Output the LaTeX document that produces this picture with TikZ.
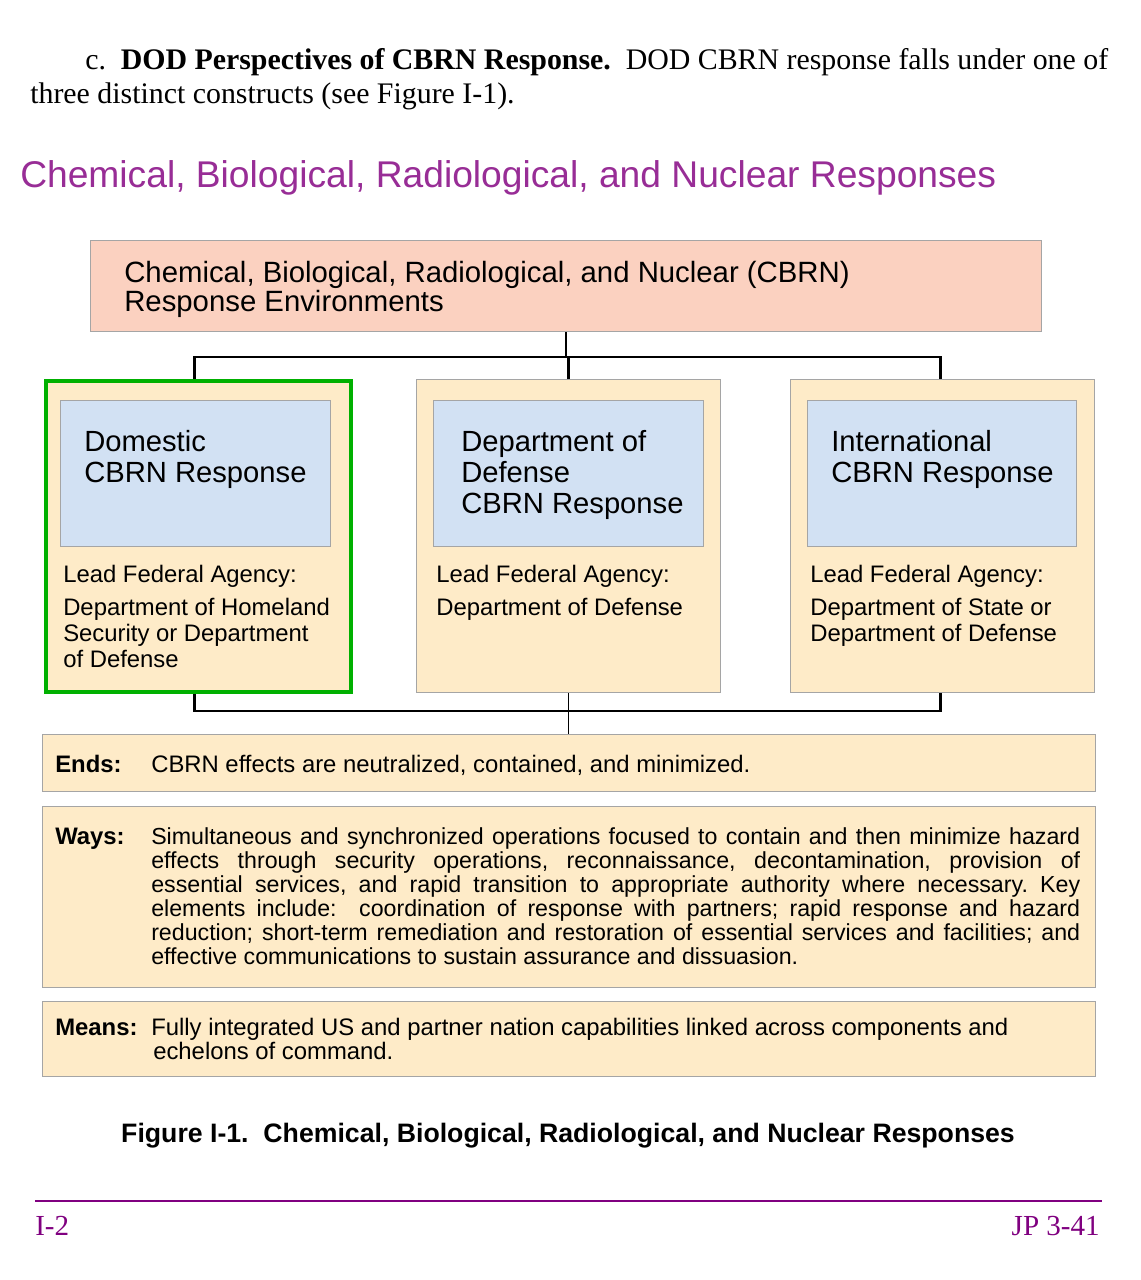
\documentclass[tikz,border=0pt]{standalone}
\usepackage{fontspec}
\setmainfont{Liberation Serif}
\setsansfont{Liberation Sans}
\definecolor{ttlpurple}{RGB}{152,45,150}
\definecolor{ftpurple}{RGB}{128,0,128}
\definecolor{salmon}{RGB}{251,209,192}
\definecolor{cream}{RGB}{254,235,200}
\definecolor{paleblue}{RGB}{210,225,243}
\definecolor{grayline}{RGB}{165,165,165}
\definecolor{boxgreen}{RGB}{0,176,0}
\begin{document}
\begin{tikzpicture}[x=0.75pt,y=-0.75pt,
  box/.style={draw=grayline, line width=0.8pt, inner sep=0pt, anchor=north west},
  panel/.style={box, fill=cream, minimum width=228pt, minimum height=234.75pt},
  bluebox/.style={box, fill=paleblue, minimum width=202.5pt, minimum height=109.5pt},
  wide/.style={box, fill=cream, minimum width=789.75pt},
  txt/.style={inner sep=0pt, anchor=base west, font=\sffamily},
  small/.style={txt, font=\sffamily\fontsize{17.9}{19.5}\selectfont},
  smallbf/.style={txt, font=\sffamily\bfseries\fontsize{17.9}{19.5}\selectfont},
  conn/.style={draw=black, line width=1.7pt},
  stem/.style={draw=black, line width=1.1pt}]
\useasboundingbox (0,0) rectangle (1140,1280);
\fill[white] (0,0) rectangle (1140,1280);

% intro paragraph
\node[inner sep=0pt, anchor=base west] (intro) at (30,70) {\parbox[t]{808.5pt}{\fontsize{22.4}{25.5}\selectfont\parindent=41.25pt\indent c.\ \ \textbf{DOD Perspectives of CBRN Response.}\ \ DOD CBRN response falls under one of\linebreak three distinct constructs (see Figure I-1).}};

% figure title
\node[txt, text=ttlpurple, font=\sffamily\fontsize{27.9}{30}\selectfont] (ftitle) at (20,188) {Chemical, Biological, Radiological, and Nuclear Responses};

% top box
\node[box, fill=salmon, minimum width=713.25pt, minimum height=68.25pt] (top) at (90,240) {};
\node[txt] (toptxt) at (124,282) {\parbox[t]{600pt}{\fontsize{22}{21.75}\selectfont Chemical, Biological, Radiological, and Nuclear (CBRN)\\Response Environments}};

% panels
\node[panel, draw=boxgreen, line width=3pt, minimum width=228.75pt, minimum height=233.25pt] (dom) at (44,379) {};
\node[panel] (dod) at (416,379) {};
\node[panel] (int) at (790,379) {};

\node[bluebox] (domb) at (60,400) {};
\node[bluebox] (dodb) at (433,400) {};
\node[bluebox, minimum width=201.75pt] (intb) at (807,400) {};

\node[txt] (domt) at (84,451) {\parbox[t]{200pt}{\fontsize{21.9}{23.25}\selectfont Domestic\\CBRN Response}};
\node[txt] (dodt) at (461,451) {\parbox[t]{200pt}{\fontsize{21.9}{23.25}\selectfont Department of\\Defense\\CBRN Response}};
\node[txt] (intt) at (831,451) {\parbox[t]{200pt}{\fontsize{21.9}{23.25}\selectfont International\\CBRN Response}};

\node[small] (doml) at (63,582.5) {Lead Federal Agency:};
\node[small] (dodl) at (436,582.5) {Lead Federal Agency:};
\node[small] (intl) at (810,582.5) {Lead Federal Agency:};

\node[txt] (doma) at (63,615.5) {\parbox[t]{220pt}{\fontsize{17.9}{19.5}\selectfont Department of Homeland\\Security or Department\\of Defense}};
\node[txt] (doda) at (436,615.5) {\parbox[t]{220pt}{\fontsize{17.9}{19.5}\selectfont Department of Defense}};
\node[txt] (inta) at (810,615.5) {\parbox[t]{220pt}{\fontsize{17.9}{19.5}\selectfont Department of State or\\Department of Defense}};

% ends / ways / means
\node[wide, minimum height=42.75pt] (ends) at (42,734) {};
\node[wide, minimum height=135.75pt] (ways) at (42,806) {};
\node[wide, minimum height=56.25pt] (means) at (42,1001) {};

\node[smallbf] (endsl) at (55,772) {Ends:};
\node[small] (endst) at (151,772) {CBRN effects are neutralized, contained, and minimized.};

\node[smallbf] (waysl) at (55,844) {Ways:};
\node[txt] (wayst) at (151,844) {\parbox[t]{696.75pt}{\fontsize{17.4}{18}\selectfont\parindent=0pt\frenchspacing
Simultaneous and synchronized operations focused to contain and then minimize hazard\linebreak
effects through security operations, reconnaissance, decontamination, provision of\linebreak
essential services, and rapid transition to appropriate authority where necessary. Key\linebreak
elements include:\ \ coordination of response with partners; rapid response and hazard\linebreak
reduction; short-term remediation and restoration of essential services and facilities; and\linebreak
effective communications to sustain assurance and dissuasion.}};

\node[smallbf] (meansl) at (55,1035) {Means:};
\node[txt] (meanst) at (151,1035) {\parbox[t]{696.75pt}{\fontsize{17.9}{18}\selectfont\parindent=0pt
Fully integrated US and partner nation capabilities linked across components and\\
\hspace*{1.5pt}echelons of command.}};

% connectors
\coordinate (bus1) at (567,357);
\coordinate (bus2) at (567,711);
\draw[stem] (top.south) -- (top.south |- bus1);
\draw[conn] ([xshift=-3pt]dom.north) |- (bus1) -| ([xshift=-1.5pt]int.north);
\draw[conn] (dod.north) -- (dod.north |- bus1);
\draw[conn] ([xshift=-3pt]dom.south) |- (bus2) -| ([xshift=-1.5pt]int.south);
\draw[stem] (dod.south) -- (dod.south |- ends.north);

% caption
\node[inner sep=0pt, anchor=base, font=\sffamily\bfseries\fontsize{20}{22}\selectfont] (cap) at (568,1142) {Figure I-1.\ \ Chemical, Biological, Radiological, and Nuclear Responses};

% footer
\coordinate (fl) at (35,1201);
\coordinate (fr) at (1102,1201);
\draw[ftpurple, line width=2.2pt] (fl) -- (fr);
\node[inner sep=0pt, anchor=base west, text=ftpurple, font=\fontsize{21.8}{24}\selectfont] (pg) at (35,1235) {I-2};
\node[inner sep=0pt, anchor=base east, text=ftpurple, font=\fontsize{21.8}{24}\selectfont] (jp) at (1100,1235) {JP 3-41};
\end{tikzpicture}
\end{document}
